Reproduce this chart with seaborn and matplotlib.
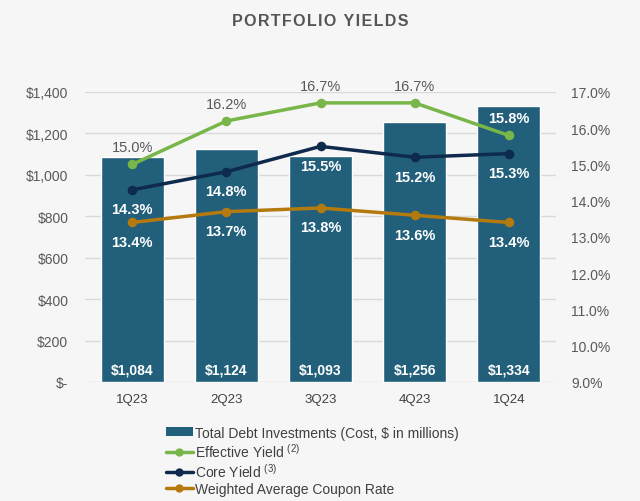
import numpy as np
import pandas as pd
import matplotlib
matplotlib.use("Agg")
import matplotlib.pyplot as plt
from matplotlib.lines import Line2D
from matplotlib.patches import Patch
from matplotlib.ticker import FuncFormatter, MultipleLocator
import seaborn as sns

quarters = ["1Q23", "2Q23", "3Q23", "4Q23", "1Q24"]
debt_investments = [1084, 1124, 1093, 1256, 1334]
effective_yield = [15.0, 16.2, 16.7, 16.7, 15.8]
core_yield = [14.3, 14.8, 15.5, 15.2, 15.3]
coupon_rate = [13.4, 13.7, 13.8, 13.6, 13.4]
legend_labels = ["Total Debt Investments (Cost, $ in millions)",
                 "Effective Yield $^{(2)}$", "Core Yield $^{(3)}$",
                 "Weighted Average Coupon Rate"]
title = "PORTFOLIO YIELDS"

BAR = "#215F7B"
GREEN = "#78B649"
NAVY = "#0E2A4C"
GOLD = "#B47A0E"
TXT = "#595959"

sns.set_theme(style="white")
plt.rcParams["font.family"] = ["Liberation Sans", "DejaVu Sans"]
plt.rcParams["mathtext.fontset"] = "custom"
plt.rcParams["mathtext.rm"] = "Liberation Sans"

fig = plt.figure(figsize=(6.4, 5.02), dpi=100, facecolor="#F6F6F6")
ax = fig.add_axes([85/640, 1-383/502, (556-85)/640, (383-93)/502])
ax.set_facecolor("none")

df = pd.DataFrame({"q": quarters, "v": debt_investments})
sns.barplot(data=df, x="q", y="v", color=BAR, saturation=1, width=0.67, ax=ax, zorder=2)
ax.set_ylim(0, 1400)
ax.yaxis.set_major_locator(MultipleLocator(200))
ax.yaxis.set_major_formatter(FuncFormatter(lambda v, p: "$-" if v == 0 else f"${v:,.0f}"))
ax.grid(axis="y", color="#D9D9D9", linewidth=1, zorder=0)
ax.set_axisbelow(True)
ax.set_xlabel("")
ax.set_ylabel("")
ax.tick_params(axis="y", colors=TXT, labelsize=10, length=0, pad=12)
ax.tick_params(axis="x", colors="#404040", labelsize=9.5, length=0, pad=8)
for s in ax.spines.values():
    s.set_visible(False)
for i, v in enumerate(debt_investments):
    ax.text(i, 62, f"${v:,}", ha="center", va="center", color="white",
            fontsize=10, fontweight="bold", zorder=5)

ax2 = ax.twinx()
ax2.set_facecolor("none")
for vals, col in [(coupon_rate, GOLD), (core_yield, NAVY), (effective_yield, GREEN)]:
    sns.pointplot(x=quarters, y=vals, ax=ax2, color=col, markersize=5,
                  linewidth=2.5, zorder=4)
ax2.set_ylim(9, 17)
ax2.yaxis.set_major_locator(MultipleLocator(1))
ax2.yaxis.set_major_formatter(FuncFormatter(lambda v, p: f"{v:.1f}%"))
ax2.tick_params(axis="y", colors=TXT, labelsize=10, length=0, pad=11)
ax2.set_ylabel("")
ax2.grid(False)
for s in ax2.spines.values():
    s.set_visible(False)
ax.set_xlim(-0.5, 4.5)
ax2.set_xlim(-0.5, 4.5)

for i, v in enumerate(effective_yield):
    inside = i == len(effective_yield) - 1
    ax2.annotate(f"{v:.1f}%", (i, v), xytext=(0, 12.5), textcoords="offset points",
                 ha="center", va="center", fontsize=10.5,
                 color="white" if inside else TXT,
                 fontweight="bold" if inside else "normal")
for vals in (core_yield, coupon_rate):
    for i, v in enumerate(vals):
        ax2.annotate(f"{v:.1f}%", (i, v), xytext=(0, -14), textcoords="offset points",
                     ha="center", va="center", fontsize=10.5, color="white",
                     fontweight="bold")

spaced_title = "\u200a".join(title)
fig.text(0.5, 1-22/502, spaced_title, ha="center", va="center",
         fontsize=11.5, fontweight="bold", color="#555555")

handles = [Patch(facecolor=BAR, edgecolor="none"),
           Line2D([], [], color=GREEN, lw=2.5, marker="o", markersize=5),
           Line2D([], [], color=NAVY, lw=2.5, marker="o", markersize=5),
           Line2D([], [], color=GOLD, lw=2.5, marker="o", markersize=5)]
fig.legend(handles, legend_labels, loc="upper left",
           bbox_to_anchor=(160/640, 1-421/502), frameon=False, fontsize=10,
           labelcolor="#404040", handlelength=2.0, handleheight=0.55,
           handletextpad=0.1, labelspacing=0.15, borderaxespad=0)

fig.savefig("out.png", dpi=100, facecolor=fig.get_facecolor())
